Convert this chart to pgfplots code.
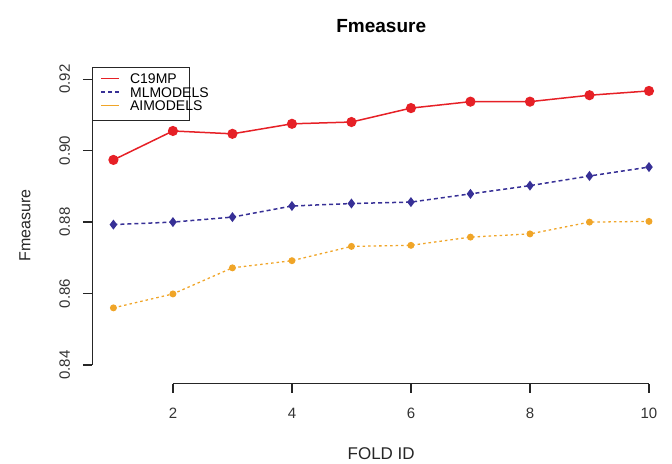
\documentclass[border=0pt]{standalone}
\usepackage{fontspec}
\setmainfont{Liberation Sans}
\usepackage{pgfplots}
\pgfplotsset{compat=1.18}

\definecolor{c19red}{RGB}{230,32,38}
\definecolor{mlblue}{RGB}{55,48,150}
\definecolor{aiorange}{RGB}{240,165,40}

\begin{document}
\begin{tikzpicture}
\begin{axis}[
  scale only axis,
  width=578.4bp, height=317bp,
  xmin=0.64, xmax=10.36,
  ymin=0.8347, ymax=0.9234,
  axis x line*=bottom, axis y line*=left,
  x axis line style={draw=none},
  y axis line style={draw=none},
  tick align=outside,
  major tick length=9bp,
  every tick/.style={black!85, line width=1.2bp},
  xtick={2,4,6,8,10},
  xticklabels={2,4,6,8,10},
  ytick={0.84,0.86,0.88,0.90,0.92},
  yticklabels={0.84,0.86,0.88,0.90,0.92},
  ticklabel style={font=\fontsize{15bp}{18bp}\selectfont, text=black!80},
  yticklabel style={rotate=90, anchor=base, yshift=13bp},
  xticklabel style={anchor=base, yshift=-26bp},
  title={Fmeasure},
  title style={at={(axis description cs:0.5,1)}, anchor=base, yshift=29bp,
    font=\fontsize{19bp}{22bp}\selectfont\bfseries},
  xlabel={FOLD ID},
  xlabel style={at={(axis description cs:0.5,0)}, anchor=center, yshift=-70bp,
    font=\fontsize{17bp}{20bp}\selectfont, text=black!85},
  ylabel={Fmeasure},
  ylabel style={at={(axis description cs:0,0.5)}, anchor=center, yshift=67bp,
    font=\fontsize{16bp}{19bp}\selectfont, text=black!85},
  legend cell align=left,
  legend style={at={(axis description cs:0,1)}, anchor=north west,
    draw=black!85, line width=1.2bp, fill=white,
    inner xsep=8bp, inner ysep=6bp, row sep=0pt,
    font=\fontsize{14bp}{14bp}\selectfont,
    nodes={inner sep=0pt, text height=10bp, text depth=3.7bp},
    /tikz/every odd column/.append style={column sep=10bp}},
]
% C19MP
\addplot[c19red, line width=1.5bp, mark=*, mark size=4.3bp,
  mark options={solid, fill=c19red, draw=c19red},
  legend image code/.code={\draw[draw=c19red, solid, line width=1.5bp] (0bp,2bp) -- (18bp,2bp);}]
  coordinates {(1,0.8974) (2,0.9055) (3,0.9047) (4,0.9075) (5,0.9080)
               (6,0.9119) (7,0.9137) (8,0.9137) (9,0.9155) (10,0.9167)};
\addlegendentry{\makebox[51bp][l]{C19MP}}
% MLMODELS
\addplot[mlblue, line width=1.5bp, dash pattern=on 4bp off 3bp,
  mark=diamond*, mark size=3.8bp, mark options={solid, fill=mlblue, draw=mlblue},
  legend image code/.code={\draw[draw=mlblue, line width=1.5bp, dash pattern=on 4bp off 3bp] (0bp,2bp) -- (18bp,2bp);}]
  coordinates {(1,0.8793) (2,0.8800) (3,0.8814) (4,0.8845) (5,0.8852)
               (6,0.8856) (7,0.8879) (8,0.8902) (9,0.8929) (10,0.8954)};
\addlegendentry{\makebox[51bp][l]{MLMODELS}}
% AIMODELS
\addplot[aiorange, line width=1.3bp, dash pattern=on 2.5bp off 3bp,
  mark=*, mark size=2.8bp, mark options={solid, fill=aiorange, draw=aiorange},
  legend image code/.code={\draw[draw=aiorange, solid, line width=1.1bp] (0bp,2bp) -- (18bp,2bp);}]
  coordinates {(1,0.8560) (2,0.8599) (3,0.8672) (4,0.8692) (5,0.8732)
               (6,0.8735) (7,0.8758) (8,0.8767) (9,0.8800) (10,0.8802)};
\addlegendentry{\makebox[51bp][l]{AIMODELS}}
% axis lines spanning the tick range only
\draw[black!85, line width=1.2bp] (axis cs:0.64,0.84) -- (axis cs:0.64,0.92);
\draw[black!85, line width=1.2bp] (axis cs:2,0.8347) -- (axis cs:10,0.8347);
\end{axis}
\pgfresetboundingbox
\useasboundingbox ([shift={(-92bp,-80bp)}]current axis.south west)
  rectangle ([shift={(1.6bp,67bp)}]current axis.north east);
\end{tikzpicture}
\end{document}
